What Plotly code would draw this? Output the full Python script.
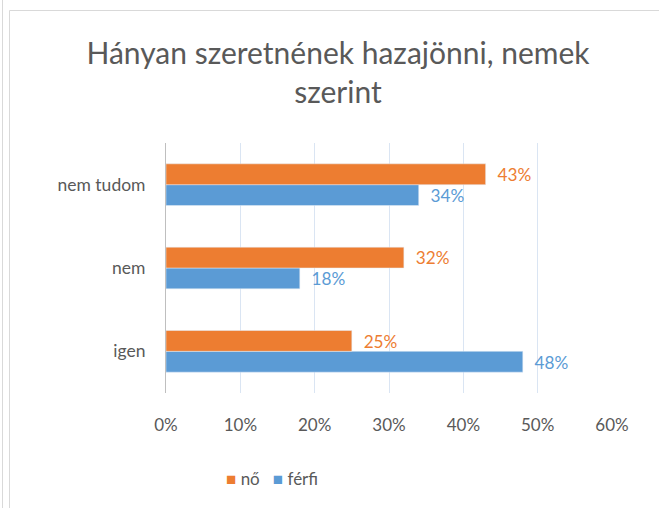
import plotly.graph_objects as go

categories = ["igen", "nem", "nem tudom"]
no_values = [25, 32, 43]
ferfi_values = [48, 18, 34]
series_names = ["nő", "férfi"]
x_ticks = [0, 10, 20, 30, 40, 50, 60]
x_tick_labels = ["0%", "10%", "20%", "30%", "40%", "50%", "60%"]

ORANGE = "#ED7D31"
BLUE = "#5B9BD5"
GRAY = "#595959"
FONT = "Lato, 'Open Sans', sans-serif"

W, H = 659, 508
L, R, T, B = 166, 47, 143, 115
pw, ph = W - L - R, H - T - B

def px(x):
    return (x - L) / pw

def py(y):
    return (H - B - y) / ph

fig = go.Figure()
fig.add_trace(go.Bar(
    y=categories, x=ferfi_values, name=series_names[1], orientation="h",
    marker=dict(color=BLUE), text=["  %d%%" % v for v in ferfi_values],
    textposition="outside", textfont=dict(color=BLUE, size=19, family=FONT),
    cliponaxis=False, showlegend=False,
))
fig.add_trace(go.Bar(
    y=categories, x=no_values, name=series_names[0], orientation="h",
    marker=dict(color=ORANGE), text=["  %d%%" % v for v in no_values],
    textposition="outside", textfont=dict(color=ORANGE, size=19, family=FONT),
    cliponaxis=False, showlegend=False,
))

fig.update_layout(
    width=W, height=H,
    margin=dict(l=L, r=R, t=T, b=B),
    paper_bgcolor="white", plot_bgcolor="white",
    barmode="group", bargap=0.5, bargroupgap=0,
    title=dict(text="Hányan szeretnének hazajönni, nemek<br>szerint",
               x=px(338), xref="paper", xanchor="center",
               y=1 - 64 / H, yanchor="top",
               font=dict(family=FONT, size=30, color=GRAY)),
    xaxis=dict(range=[0, 60], tickvals=x_ticks, ticktext=x_tick_labels,
               showgrid=True, gridcolor="#DAE5F3", gridwidth=1,
               zeroline=False, showline=False, ticks="",
               tickfont=dict(family=FONT, size=17, color=GRAY),
               ticklabelstandoff=20, fixedrange=True),
    yaxis=dict(showgrid=False, zeroline=False, showline=True, linecolor="#BFBFBF",
               ticks="", tickfont=dict(family=FONT, size=17.5, color=GRAY),
               ticklabelstandoff=16, fixedrange=True),
    showlegend=False,
)

# legend drawn as text
legend_text = ("<span style='color:%s'>■</span> %s   <span style='color:%s'>■</span> %s"
               % (ORANGE, series_names[0], BLUE, series_names[1]))
fig.add_annotation(text=legend_text, xref="paper", yref="paper",
                   x=px(272), y=py(478), xanchor="center", yanchor="middle",
                   showarrow=False, font=dict(family=FONT, size=17, color=GRAY))

# chart borders
fig.add_shape(type="line", xref="paper", yref="paper", x0=px(2.5), x1=px(2.5), y0=py(0), y1=py(H),
              line=dict(color="#D9D9D9", width=1))
fig.add_shape(type="line", xref="paper", yref="paper", x0=px(9.5), x1=px(9.5), y0=py(10.5), y1=py(H),
              line=dict(color="#D9D9D9", width=1))
fig.add_shape(type="line", xref="paper", yref="paper", x0=px(9.5), x1=px(W), y0=py(10.5), y1=py(10.5),
              line=dict(color="#D9D9D9", width=1))

fig.write_html("out.html", config={"displayModeBar": False},
               post_script="document.body.style.margin='0';")
